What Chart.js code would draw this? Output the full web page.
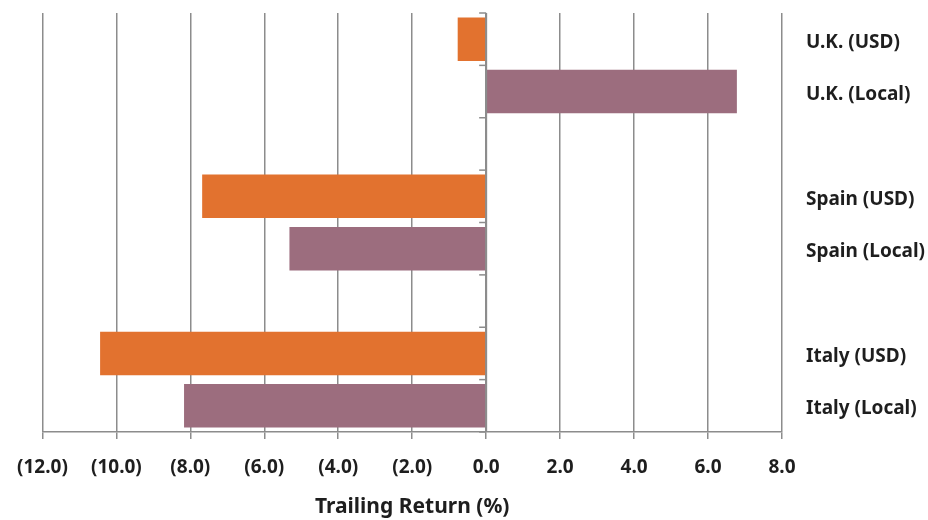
<!DOCTYPE html>
<html>
<head>
<meta charset="utf-8">
<script src="https://cdn.jsdelivr.net/npm/chart.js@4/dist/chart.umd.min.js"></script>
<style>
  html, body { margin: 0; padding: 0; background: #ffffff; }
  #wrap { width: 928px; height: 520px; position: relative; }
</style>
</head>
<body>
<div id="wrap"><canvas id="chart" width="928" height="520"></canvas></div>
<script>
// Trailing returns by market, in local currency and in USD
const categories = ['U.K. (USD)', 'U.K. (Local)', '', 'Spain (USD)', 'Spain (Local)', '', 'Italy (USD)', 'Italy (Local)'];
const usdReturns   = [-0.77, null, null, -7.68, null, null, -10.44, null];
const localReturns = [null, 6.78, null, null, -5.32, null, null, -8.17];
const xTicks = [-12, -10, -8, -6, -4, -2, 0, 2, 4, 6, 8];

const FONT = '"Noto Sans", "Open Sans", sans-serif';
const TEXT = '#1e1e1e';
const GRID = '#8c8c8c';

// Vertical zero axis with small tick marks between categories
const zeroAxis = {
  id: 'zeroAxis',
  afterDatasetsDraw(chart) {
    const x = chart.scales.x, y = chart.scales.y;
    const ctx = chart.ctx;
    const x0 = x.getPixelForValue(0);
    ctx.save();
    ctx.strokeStyle = GRID;
    ctx.lineWidth = 2;
    ctx.beginPath();
    ctx.moveTo(x0, chart.chartArea.top);
    ctx.lineTo(x0, chart.chartArea.bottom);
    ctx.stroke();
    ctx.lineWidth = 1.5;
    for (let i = 0; i <= categories.length; i++) {
      const py = y.getPixelForValue(i - 0.5);
      ctx.beginPath();
      ctx.moveTo(x0 - 7, py);
      ctx.lineTo(x0, py);
      ctx.stroke();
    }
    ctx.restore();
  }
};

new Chart(document.getElementById('chart'), {
  type: 'bar',
  data: {
    labels: categories,
    datasets: [
      { label: 'USD', data: usdReturns, backgroundColor: '#e2722f', grouped: false,
        barPercentage: 0.83, categoryPercentage: 1 },
      { label: 'Local', data: localReturns, backgroundColor: '#9c6d7e', grouped: false,
        barPercentage: 0.83, categoryPercentage: 1 }
    ]
  },
  options: {
    indexAxis: 'y',
    responsive: false,
    animation: false,
    layout: { padding: { left: 42, top: 13, right: 0, bottom: 0 } },
    plugins: { legend: { display: false }, tooltip: { enabled: false } },
    scales: {
      x: {
        type: 'linear',
        min: -12, max: 8,
        afterBuildTicks(scale) { scale.ticks = xTicks.map(v => ({ value: v })); },
        afterFit(scale) { scale.height = 88; },
        grid: { color: GRID, lineWidth: 1.5, tickLength: 7, drawTicks: true },
        border: { display: true, color: GRID, width: 1.5 },
        ticks: {
          color: TEXT,
          padding: 17,
          font: { family: FONT, size: 19, weight: 'bold' },
          callback: v => v < 0 ? '(' + Math.abs(v).toFixed(1) + ')' : v.toFixed(1)
        },
        title: {
          display: true,
          text: 'Trailing Return (%)',
          color: TEXT,
          padding: { top: 4, bottom: 0 },
          font: { family: FONT, size: 21, weight: 'bold' }
        }
      },
      y: {
        type: 'category',
        position: 'right',
        offset: true,
        afterFit(scale) {
          scale.width = 146;
          scale.paddingTop = 0;
          scale.paddingBottom = 0;
        },
        grid: { display: false },
        border: { display: false },
        ticks: {
          color: TEXT,
          crossAlign: 'near',
          padding: 16,
          labelOffset: 3,
          font: { family: FONT, size: 19, weight: 'bold' }
        }
      }
    }
  },
  plugins: [zeroAxis]
});
</script>
</body>
</html>
